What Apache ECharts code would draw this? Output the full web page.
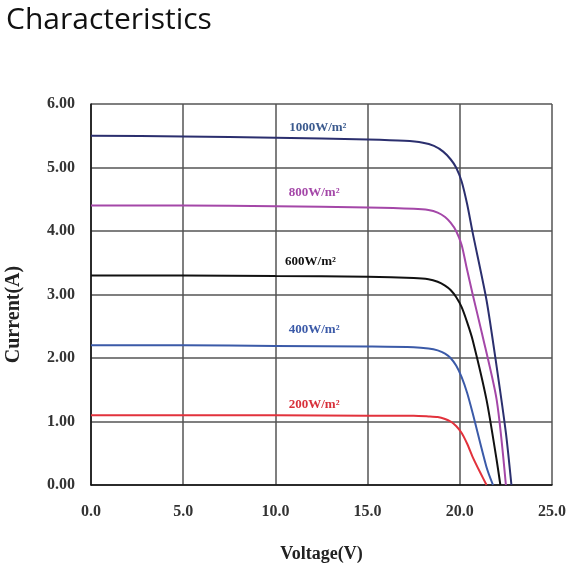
<!DOCTYPE html>
<html><head><meta charset="utf-8">
<script src="https://cdn.jsdelivr.net/npm/echarts@6/dist/echarts.min.js"></script>
<style>html,body{margin:0;padding:0;background:#fff}#c{width:569px;height:569px}</style>
</head><body><div id="c"></div>
<script>
const xTicks = [0, 5, 10, 15, 20, 25];
const yTicks = [0, 1, 2, 3, 4, 5, 6];
const seriesNames = ['1000W/m²', '800W/m²', '600W/m²', '400W/m²', '200W/m²'];
const curve1000 = [[0,5.50],[5,5.49],[10,5.47],[15,5.44],[17,5.42],[18,5.39],[18.6,5.34],[19.1,5.25],[19.5,5.13],[19.8,5.00],[20.1,4.78],[20.4,4.42],[20.7,3.97],[21.45,2.91],[22.0,1.86],[22.5,0.82],[22.8,0]];
const curve800 = [[0,4.40],[5,4.40],[10,4.39],[15,4.37],[17.5,4.35],[18.3,4.33],[18.8,4.29],[19.2,4.22],[19.5,4.13],[19.8,4.00],[20.1,3.78],[20.35,3.45],[20.7,3.00],[21.2,2.39],[22.0,1.34],[22.5,0]];
const curve600 = [[0,3.30],[5,3.30],[10,3.29],[15,3.28],[17.5,3.26],[18.3,3.24],[18.8,3.20],[19.2,3.14],[19.5,3.07],[19.8,2.96],[20.1,2.80],[20.4,2.56],[20.7,2.28],[21.45,1.34],[22.0,0.39],[22.2,0]];
const curve400 = [[0,2.20],[5,2.20],[10,2.19],[15,2.18],[17.5,2.17],[18.3,2.15],[18.8,2.12],[19.2,2.07],[19.5,2.00],[19.8,1.88],[20.1,1.70],[20.4,1.45],[20.7,1.13],[21.45,0.28],[21.8,0]];
const curve200 = [[0,1.10],[5,1.10],[10,1.10],[15,1.09],[17.5,1.09],[18.3,1.08],[18.8,1.07],[19.2,1.04],[19.5,1.00],[19.8,0.93],[20.1,0.82],[20.4,0.65],[20.7,0.44],[21.1,0.20],[21.45,0]];
const labelPos = [[12.3,5.63],[12.1,4.60],[11.9,3.52],[12.1,2.44],[12.1,1.27]];
const colors = ['#2b2f6e', '#a447a8', '#111111', '#3b5aa8', '#e2323c'];
const labelColors = ['#3b5a8e', '#a447a8', '#111111', '#3b5aa8', '#d8303a'];
const curves = [curve1000, curve800, curve600, curve400, curve200];

const chart = echarts.init(document.getElementById('c'));
const serif = '"Liberation Serif","DejaVu Serif",serif';
chart.setOption({
  animation: false,
  title: { text: 'Characteristics', left: 1, top: 0,
    textStyle: { fontFamily: '"Open Sans",sans-serif', fontSize: 30, fontWeight: 'normal', color: '#111' } },
  grid: { left: 91, right: 17, top: 104, bottom: 84, containLabel: false, outerBoundsMode: 'none' },
  xAxis: {
    type: 'value', min: 0, max: 25, interval: 5,
    name: 'Voltage(V)', nameLocation: 'middle', nameGap: 60,
    nameTextStyle: { fontFamily: serif, fontWeight: 'bold', fontSize: 18, color: '#222' },
    axisLine: { lineStyle: { color: '#111', width: 1.5 } },
    axisTick: { show: false },
    splitLine: { show: true, lineStyle: { color: '#555', width: 1.5 } },
    axisLabel: { formatter: v => v.toFixed(1), margin: 19, fontFamily: serif, fontWeight: 'bold', fontSize: 16, color: '#333' }
  },
  yAxis: {
    type: 'value', min: 0, max: 6, interval: 1,
    name: 'Current(A)', nameLocation: 'middle', nameGap: 67, nameRotate: 90,
    nameTextStyle: { fontFamily: serif, fontWeight: 'bold', fontSize: 20, color: '#222', padding: [0, 40, 0, 0] },
    axisLine: { show: true, lineStyle: { color: '#111', width: 1.5 } },
    axisTick: { show: false },
    splitLine: { show: true, lineStyle: { color: '#555', width: 1.5 } },
    axisLabel: { formatter: v => v.toFixed(2), margin: 16, fontFamily: serif, fontWeight: 'bold', fontSize: 16, color: '#333' }
  },
  series: curves.map((d, i) => ({
    type: 'line', name: seriesNames[i], data: d, showSymbol: false, smooth: 0.25,
    lineStyle: { color: colors[i], width: 2 },
    markPoint: {
      symbol: 'circle', symbolSize: 0,
      data: [{ coord: labelPos[i], value: seriesNames[i] }],
      label: { show: true, position: 'inside', formatter: seriesNames[i], color: labelColors[i],
        fontFamily: serif, fontWeight: 'bold', fontSize: 13 }
    }
  }))
});
</script></body></html>
